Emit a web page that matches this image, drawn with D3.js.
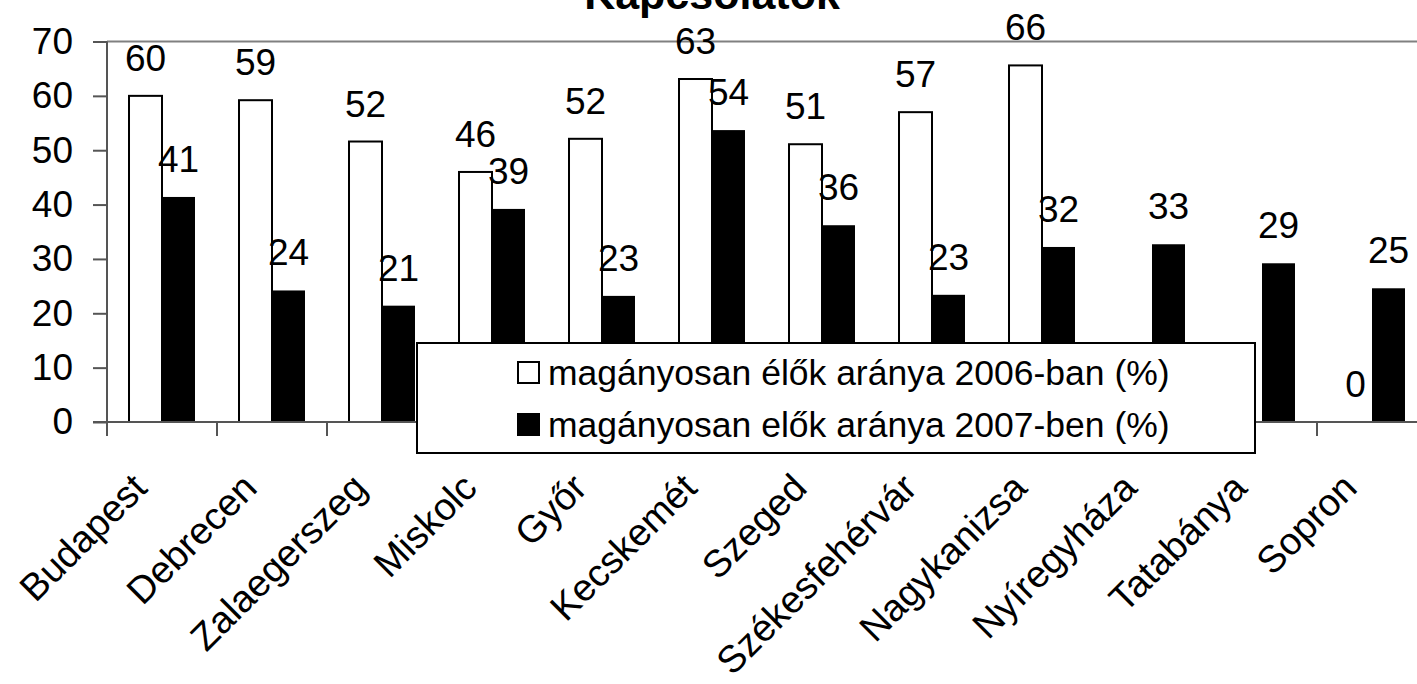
<!DOCTYPE html>
<html>
<head>
<meta charset="utf-8">
<script src="https://cdn.jsdelivr.net/npm/d3@7"></script>
<style>
  body { margin: 0; background: #fff; }
  svg { display: block; font-family: "Liberation Sans", Arial, sans-serif; }
</style>
</head>
<body>
<svg id="chart" width="1417" height="684"></svg>
<script>
var cities = ['Budapest', 'Debrecen', 'Zalaegerszeg', 'Miskolc', 'Győr', 'Kecskemét',
  'Szeged', 'Székesfehérvár', 'Nagykanizsa', 'Nyíregyháza', 'Tatabánya', 'Sopron'];
var values2006 = [60, 59.2, 51.6, 46, 52.1, 63.1, 51.1, 57, 65.6, null, null, 0];
var values2007 = [41.4, 24.2, 21.4, 39.2, 23.2, 53.7, 36.2, 23.4, 32.2, 32.7, 29.2, 24.6];
var seriesNames = ['magányosan élők aránya 2006-ban (%)', 'magányosan elők aránya 2007-ben (%)'];
var yTicks = [0, 10, 20, 30, 40, 50, 60, 70];

var LEFT = 107, RIGHT = 1427, TOP = 41.5, BOTTOM = 422;

var svg = d3.select('#chart');

var x0 = d3.scaleBand().domain(cities).range([LEFT, RIGHT]).padding(0);
var x1 = d3.scaleBand().domain([0, 1]).range([0, x0.bandwidth()])
    .paddingInner(0).paddingOuter(0.667);
var y = d3.scaleLinear().domain([0, 70]).range([BOTTOM, TOP]);

// title, cut off by the top edge like in the original
svg.append('text')
    .attr('x', 712).attr('y', 9)
    .attr('text-anchor', 'middle')
    .style('font-size', '43px').style('font-weight', 'bold')
    .text('Kapcsolatok');

// top border of plot area
svg.append('line')
    .attr('x1', LEFT).attr('x2', RIGHT)
    .attr('y1', y(70)).attr('y2', y(70))
    .attr('stroke', '#808080').attr('stroke-width', 2);

var rows = cities.map(function (c, i) {
  return {city: c, vals: [values2006[i], values2007[i]]};
});

var groups = svg.selectAll('g.city').data(rows).enter().append('g')
    .attr('class', 'city')
    .attr('transform', function (d) { return 'translate(' + x0(d.city) + ',0)'; });

var bars = groups.selectAll('g.bar')
    .data(function (d) { return d.vals.map(function (v, k) { return {v: v, k: k}; }); })
    .enter().filter(function (d) { return d.v !== null; }).append('g');

bars.append('rect')
    .attr('x', function (d) { return x1(d.k); })
    .attr('width', x1.bandwidth())
    .attr('y', function (d) { return y(d.v); })
    .attr('height', function (d) { return y(0) - y(d.v); })
    .attr('fill', function (d) { return d.k === 0 ? '#fff' : '#000'; })
    .attr('stroke', '#000')
    .attr('stroke-width', function (d) { return d.k === 0 ? 2 : 0; });

// axes
var yAxis = d3.axisLeft(y).tickValues(yTicks).tickSize(14).tickPadding(20);
var gy = svg.append('g').attr('transform', 'translate(' + LEFT + ',0)').call(yAxis);
gy.selectAll('text').style('font-size', '37px').attr('fill', '#000')
    .attr('font-family', null);
gy.selectAll('line, path').attr('stroke', '#555').attr('stroke-width', 2);
gy.select('.domain').attr('d', 'M0,' + TOP + 'V' + BOTTOM);

var gx = svg.append('g').attr('transform', 'translate(0,' + BOTTOM + ')');
gx.append('line').attr('x1', LEFT - 14).attr('x2', RIGHT)
    .attr('stroke', '#555').attr('stroke-width', 2);
gx.selectAll('line.tick').data(cities).enter().append('line')
    .attr('class', 'tick')
    .attr('x1', function (d) { return x0(d); }).attr('x2', function (d) { return x0(d); })
    .attr('y1', 0).attr('y2', 14)
    .attr('stroke', '#555').attr('stroke-width', 2);
gx.selectAll('text').data(cities).enter().append('text')
    .attr('text-anchor', 'end')
    .attr('transform', function (d) {
      return 'translate(' + (x0(d) + x0.bandwidth() / 2 - 13) + ',68) rotate(-45)';
    })
    .style('font-size', '38px')
    .text(function (d) { return d; });

// data labels
bars.append('text')
    .attr('x', function (d) { return x1(d.k) + x1.bandwidth() / 2; })
    .attr('y', function (d) { return y(d.v) - 25; })
    .attr('text-anchor', 'middle')
    .style('font-size', '37px')
    .text(function (d) { return d3.format('.0f')(d.v); });

// legend
var legend = svg.append('g');
legend.append('rect')
    .attr('x', 417).attr('y', 343).attr('width', 838).attr('height', 110)
    .attr('fill', '#fff').attr('stroke', '#000').attr('stroke-width', 2);
var items = legend.selectAll('g.item').data(seriesNames).enter().append('g')
    .attr('transform', function (d, i) { return 'translate(517,' + (372.5 + i * 52) + ')'; });
items.append('rect')
    .attr('x', 1).attr('y', -10.5).attr('width', 21).attr('height', 21)
    .attr('fill', function (d, i) { return i === 0 ? '#fff' : '#000'; })
    .attr('stroke', '#000').attr('stroke-width', 2);
items.append('text')
    .attr('x', 31).attr('dy', '0.35em')
    .style('font-size', '35.5px')
    .text(function (d) { return d; });
</script>
</body>
</html>
